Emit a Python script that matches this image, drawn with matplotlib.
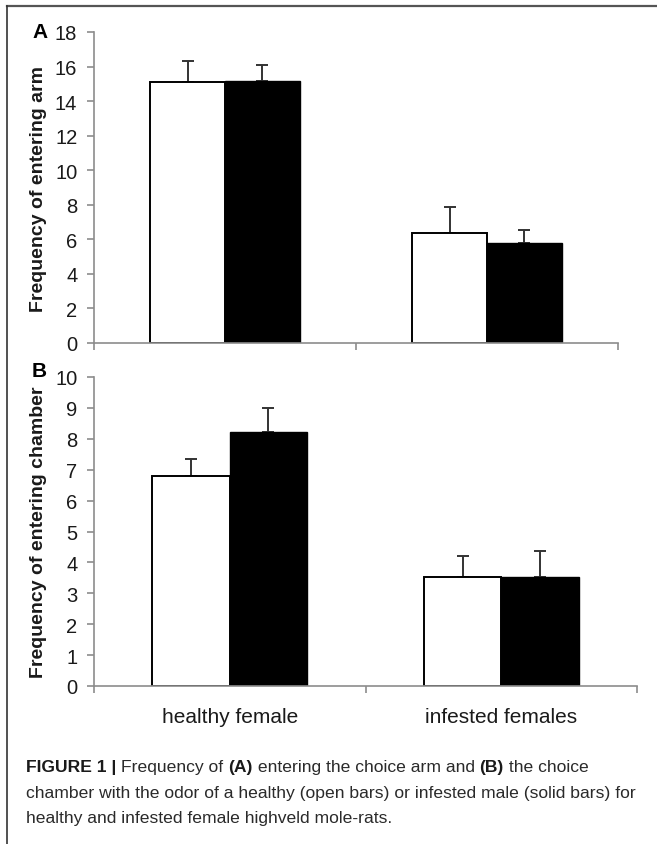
import matplotlib
matplotlib.use("Agg")
import matplotlib.pyplot as plt
from matplotlib.lines import Line2D
import numpy as np

# ---- data ----
categories = ["healthy female", "infested females"]
arm_open = [15.08, 6.36]
arm_open_err = [1.22, 1.50]
arm_solid = [15.15, 5.78]
arm_solid_err = [0.92, 0.75]
chamber_open = [6.80, 3.53]
chamber_open_err = [0.55, 0.68]
chamber_solid = [8.22, 3.53]
chamber_solid_err = [0.78, 0.84]
arm_ticks = [0, 2, 4, 6, 8, 10, 12, 14, 16, 18]
chamber_ticks = [0, 1, 2, 3, 4, 5, 6, 7, 8, 9, 10]

W, H = 657, 845
fig = plt.figure(figsize=(W / 100, H / 100), dpi=100)
plt.rcParams['font.family'] = ['Liberation Sans', 'DejaVu Sans']

def px_axes(left, top, right, bottom):
    return fig.add_axes([left / W, 1 - bottom / H, (right - left) / W, (bottom - top) / H])

axis_gray = "#8c8c8c"
txt = "#1a1a1a"
bw = 0.285

def panel(ax, open_v, open_e, solid_v, solid_e, ymax, ticks, ylabel, show_x):
    x = np.arange(len(categories))
    ax.bar(x - bw / 2, open_v, bw, color="white", edgecolor="black", linewidth=1.4, zorder=2)
    ax.bar(x + bw / 2, solid_v, bw, color="black", edgecolor="black", linewidth=1.0, zorder=2)
    ax.errorbar(x - bw / 2, open_v, yerr=[np.zeros(len(x)), open_e], fmt="none",
                ecolor="#333333", elinewidth=1.4, capsize=4, capthick=1.4, zorder=1)
    ax.errorbar(x + bw / 2, solid_v, yerr=[np.zeros(len(x)), solid_e], fmt="none",
                ecolor="#333333", elinewidth=1.4, capsize=4, capthick=1.4, zorder=1)
    ax.set_xlim(-0.5, len(x) - 0.5)
    ax.set_ylim(0, ymax)
    ax.set_yticks(ticks)
    ax.set_yticklabels([str(t) for t in ticks], fontsize=14.5, color=txt)
    for s in ["top", "right"]:
        ax.spines[s].set_visible(False)
    for s in ["left", "bottom"]:
        ax.spines[s].set_color(axis_gray)
        ax.spines[s].set_linewidth(1.2)
    ax.tick_params(axis="y", direction="out", length=5, width=1.2, color=axis_gray, pad=7)
    ax.set_xticks(np.arange(len(x) + 1) - 0.5)
    ax.set_xticklabels([])
    ax.tick_params(axis="x", which="major", direction="out", length=5, width=1.2, color=axis_gray)
    if show_x:
        ax.set_xticks(x, minor=True)
        ax.set_xticklabels(categories, minor=True, fontsize=15, color=txt)
        ax.tick_params(axis="x", which="minor", length=0, pad=15)
    ax.set_ylabel(ylabel, fontsize=14, fontweight="bold", color=txt)
    ax.yaxis.set_label_coords(-47 / (ax.get_position().width * W), 0.5)
    ax.patch.set_alpha(0)

axA = px_axes(94, 33, 618, 344)
panel(axA, arm_open, arm_open_err, arm_solid, arm_solid_err, 18, arm_ticks,
      "Frequency of entering arm", False)
axB = px_axes(94, 378, 637, 687)
panel(axB, chamber_open, chamber_open_err, chamber_solid, chamber_solid_err, 10, chamber_ticks,
      "Frequency of entering chamber", True)

fig.text(40 / W, 1 - 33 / H, "A", fontsize=15, fontweight="bold", ha="center", va="center", color="black")
fig.text(39 / W, 1 - 372 / H, "B", fontsize=15, fontweight="bold", ha="center", va="center", color="black")

# frame lines (top and left)
fig.add_artist(Line2D([7 / W, 1], [1 - 7 / H, 1 - 7 / H], transform=fig.transFigure,
                      color="#555555", linewidth=1.6))
fig.add_artist(Line2D([7 / W, 7 / W], [0, 1 - 7 / H], transform=fig.transFigure,
                      color="#333333", linewidth=1.2))

# caption
cap_font = ['Liberation Sans', 'DejaVu Sans']
cap_lines = [
    [("FIGURE 1 | ", "bold"), ("Frequency of ", "normal"), ("(A)", "bold"),
     (" entering the choice arm and ", "normal"), ("(B)", "bold"), (" the choice", "normal")],
    [("chamber with the odor of a healthy (open bars) or infested male (solid bars) for", "normal")],
    [("healthy and infested female highveld mole-rats.", "normal")],
]
cap_y = [768, 794, 819]
fig.canvas.draw()
renderer = fig.canvas.get_renderer()
for line, yy in zip(cap_lines, cap_y):
    xpx = 26
    for s, wt in line:
        t = fig.text(xpx / W, 1 - yy / H, s, fontsize=12.6, fontweight=wt, family=cap_font,
                     color="#2a2a2a" if wt == "normal" else "#1a1a1a", ha="left", va="center")
        bb = t.get_window_extent(renderer=renderer)
        xpx += bb.width

fig.savefig("out.png", dpi=100)
